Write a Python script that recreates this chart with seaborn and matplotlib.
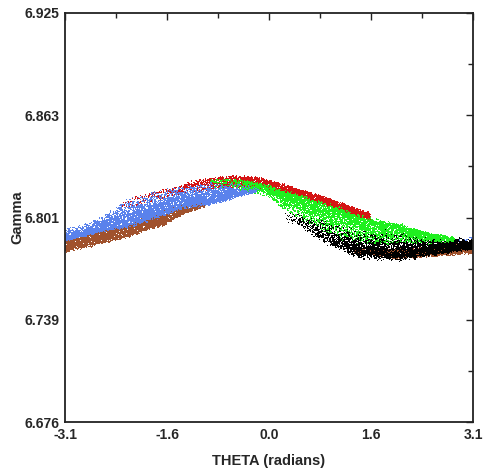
import numpy as np
import pandas as pd
import matplotlib
matplotlib.use("Agg")
import matplotlib.pyplot as plt
import seaborn as sns

sns.set_theme(style="white")
plt.rcParams['font.family'] = ['Liberation Sans', 'DejaVu Sans']

# ---------------- data: band envelopes ----------------
# brown (left part)
brownL_theta = [-3.1416, -2.60, -2.19, -1.60, -1.33, -1.00]
brownL_lo    = [6.7807, 6.7855, 6.7895, 6.7975, 6.8030, 6.8075]
brownL_hi    = [6.7872, 6.7928, 6.7962, 6.8042, 6.8082, 6.8110]
brownL_dens  = [1.0, 1.0, 1.0, 1.0, 0.8, 0.4]
# brown (right part)
brownR_theta = [1.30, 1.45, 1.97, 2.48, 3.1416]
brownR_lo    = [6.7800, 6.7789, 6.7765, 6.7777, 6.7795]
brownR_hi    = [6.7810, 6.7810, 6.7807, 6.7819, 6.7845]
brownR_dens  = [0.3, 0.8, 1.0, 1.0, 1.0]
# blue
blue_theta = [-3.1416, -2.87, -2.60, -2.19, -1.60, -1.33, -0.91, -0.65, -0.40, -0.14]
blue_lo    = [6.7870, 6.7899, 6.7928, 6.7962, 6.8040, 6.8078, 6.8098, 6.8124, 6.8150, 6.8170]
blue_hi    = [6.7935, 6.7960, 6.8000, 6.8100, 6.8165, 6.8191, 6.8205, 6.8208, 6.8205, 6.8195]
blue_dens  = [0.5, 0.6, 0.8, 1.0, 1.0, 1.0, 1.0, 0.9, 0.6, 0.3]
# blue (wrap-around at the right edge)
blueR_theta = [2.85, 3.1416]
blueR_lo    = [6.7852, 6.7855]
blueR_hi    = [6.7870, 6.7885]
blueR_dens  = [0.3, 1.0]
# red
red_theta = [-2.30, -1.53, -1.06, -0.65, -0.40, -0.14, 0.02, 0.37, 0.89, 1.40, 1.56]
red_lo    = [6.8060, 6.8140, 6.8180, 6.8195, 6.8195, 6.8190, 6.8182, 6.8150, 6.8082, 6.8010, 6.7995]
red_hi    = [6.8100, 6.8185, 6.8233, 6.8252, 6.8252, 6.8246, 6.8228, 6.8188, 6.8124, 6.8051, 6.8032]
red_dens  = [0.05, 0.2, 0.5, 0.9, 1.0, 1.0, 1.0, 1.0, 1.0, 1.0, 0.6]
# green
green_theta = [-0.91, -0.40, 0.02, 0.12, 0.37, 0.63, 0.89, 1.14, 1.40, 1.56, 1.99, 2.48, 2.85]
green_lo    = [6.8191, 6.8180, 6.8130, 6.8093, 6.8030, 6.7975, 6.7925, 6.7890, 6.7868, 6.7862, 6.7860, 6.7855, 6.7858]
green_hi    = [6.8240, 6.8232, 6.8195, 6.8172, 6.8142, 6.8108, 6.8072, 6.8040, 6.8003, 6.7985, 6.7958, 6.7906, 6.7884]
green_dens  = [0.05, 0.2, 0.6, 1.0, 1.0, 1.0, 1.0, 1.0, 1.0, 1.0, 0.9, 0.7, 0.3]
# black
black_theta = [0.25, 0.45, 0.89, 1.40, 1.97, 2.48, 3.02, 3.1416]
black_lo    = [6.8000, 6.7975, 6.7868, 6.7789, 6.7777, 6.7795, 6.7819, 6.7822]
black_hi    = [6.8040, 6.8030, 6.7990, 6.7911, 6.7917, 6.7886, 6.7868, 6.7868]
black_dens  = [0.04, 0.15, 0.5, 1.0, 1.0, 1.0, 1.0, 1.0]

series_colors = {"brown": "#a0522d", "red": "#d41414", "blue": "#5a82ec",
                 "black": "#000000", "green": "#1ff01f"}

x_tick_labels = ["-3.1", "-1.6", "0.0", "1.6", "3.1"]
y_tick_labels = ["6.676", "6.739", "6.801", "6.863", "6.925"]
x_limits = (-np.pi, np.pi)
y_limits = (6.6763, 6.9253)

# ---------------- point clouds filling each band (deterministic Weyl sequences) ----------------
_a1 = (np.sqrt(5) - 1) / 2
_a2 = np.sqrt(2) - 1


def _inv_cdf(u, grid, pdf):
    cdf = np.cumsum(pdf)
    cdf = (cdf - cdf[0]) / (cdf[-1] - cdf[0])
    return np.interp(u, cdf, grid)


def band_points(theta, lo, hi, dens, n, skew, power, offset, fringe=0.35):
    k = np.arange(offset, offset + n, dtype=np.float64)
    u1 = (_a1 * k) % 1.0
    u2 = (_a2 * k * k) % 1.0
    t = np.linspace(theta[0], theta[-1], 2000)
    th = _inv_cdf(u1, t, np.interp(t, theta, dens))
    vg = np.linspace(-fringe, 1 + fringe, 600)
    inside = np.clip(vg, 0, 1)
    if skew == "low":
        base = (1 - inside) ** power + 0.15
    elif skew == "high":
        base = inside ** power + 0.15
    else:
        base = np.ones_like(vg)
    dist = np.maximum(-vg, vg - 1).clip(0) / fringe
    pdf = base * (1 - dist).clip(0) ** 2
    v = _inv_cdf(u2, vg, pdf)
    l = np.interp(th, theta, lo)
    h = np.interp(th, theta, hi)
    return th, l + v * (h - l)


layers = [
    ("brown", brownL_theta, brownL_lo, brownL_hi, brownL_dens, 3600, "mid", 1.0, 11, 0.25),
    ("brown", brownR_theta, brownR_lo, brownR_hi, brownR_dens, 1800, "mid", 1.0, 7001, 0.35),
    ("red", red_theta, red_lo, red_hi, red_dens, 3200, "mid", 1.0, 15003, 0.25),
    ("blue", blue_theta, blue_lo, blue_hi, blue_dens, 4600, "low", 1.2, 23011, 0.22),
    ("blue", blueR_theta, blueR_lo, blueR_hi, blueR_dens, 30, "mid", 1.0, 33013, 0.35),
    ("black", black_theta, black_lo, black_hi, black_dens, 4000, "low", 0.8, 41017, 0.35),
    ("green", green_theta, green_lo, green_hi, green_dens, 4400, "high", 1.3, 52019, 0.2),
]

frames = []
for name, th, lo, hi, de, n, sk, pw, off, fr in layers:
    x, y = band_points(th, lo, hi, de, n, sk, pw, off, fr)
    frames.append(pd.DataFrame({"theta": x, "gamma": y, "series": name}))
df = pd.concat(frames, ignore_index=True)

# ---------------- figure ----------------
fig = plt.figure(figsize=(4.84, 4.70), dpi=100)
ax = fig.add_axes([65 / 484, 1 - 422 / 470, 408 / 484, 409 / 470])

sns.scatterplot(data=df, x="theta", y="gamma", hue="series", palette=series_colors,
                s=0.75, marker="s", linewidth=0, legend=False, ax=ax)

ax.set_xlim(*x_limits)
ax.set_ylim(*y_limits)
ax.set_xticks(np.linspace(x_limits[0], x_limits[1], 5))
ax.set_xticklabels(x_tick_labels)
ax.set_xticks(np.linspace(x_limits[0], x_limits[1], 9), minor=True)
ax.set_yticks(np.linspace(y_limits[0], y_limits[1], 5))
ax.set_yticklabels(y_tick_labels)
ax.set_yticks(np.linspace(y_limits[0], y_limits[1], 9), minor=True)

ax.tick_params(which="both", direction="in", top=True, right=True,
               color="#222222", width=1.0, labelsize=10, pad=4)
ax.tick_params(which="major", length=5)
ax.tick_params(which="minor", length=3.5)
for lab in ax.get_xticklabels() + ax.get_yticklabels():
    lab.set_fontweight("bold")
for sp in ax.spines.values():
    sp.set_linewidth(1.3)
    sp.set_color("#222222")
    sp.set_visible(True)

ax.set_xlabel("THETA (radians)", fontsize=10.5, fontweight="bold", labelpad=9)
ax.set_ylabel("Gamma", fontsize=10.5, fontweight="bold", labelpad=0)

fig.savefig("out.png", dpi=100)
